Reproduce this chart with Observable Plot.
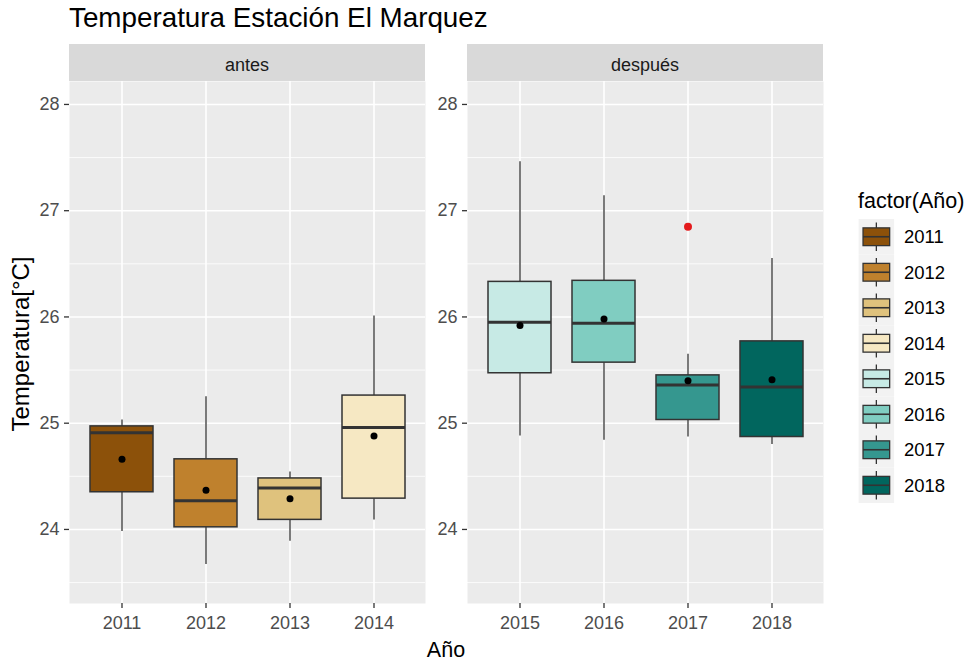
<!DOCTYPE html>
<html>
<head>
<meta charset="utf-8">
<script src="https://cdn.jsdelivr.net/npm/d3@7"></script>
<script src="https://cdn.jsdelivr.net/npm/@observablehq/plot@0.6"></script>
<style>
  html, body { margin: 0; padding: 0; background: white; }
  #wrap { position: relative; width: 972px; height: 665px; background: white; font-family: "Liberation Sans", Arial, sans-serif; }
  #wrap > svg, #wrap > div { position: absolute; }
</style>
</head>
<body>
<div id="wrap"></div>
<script>
// ---- data ----
const years = ["2011", "2012", "2013", "2014", "2015", "2016", "2017", "2018"];
const period = ["antes", "antes", "antes", "antes", "después", "después", "después", "después"];
const whiskerLow = [23.98, 23.67, 23.89, 24.09, 24.88, 24.84, 24.87, 24.80];
const q1 = [24.35, 24.02, 24.09, 24.29, 25.47, 25.57, 25.03, 24.87];
const median = [24.91, 24.27, 24.39, 24.96, 25.95, 25.94, 25.36, 25.34];
const q3 = [24.97, 24.66, 24.48, 25.26, 26.33, 26.34, 25.45, 25.77];
const whiskerHigh = [25.03, 25.25, 24.54, 26.01, 27.46, 27.14, 25.65, 26.55];
const mean = [24.66, 24.37, 24.29, 24.88, 25.92, 25.98, 25.40, 25.41];
const outlierYear = ["2017"];
const outlierValue = [26.85];
const colors = ["#8C510A", "#BF812D", "#DFC27D", "#F6E8C3", "#C7EAE5", "#80CDC1", "#35978F", "#01665E"];
const yTicks = [24, 25, 26, 27, 28];
const yMinor = [23.5, 24.5, 25.5, 26.5, 27.5];
const yDomain = [23.303, 28.216];
const facets = ["antes", "después"];

const data = years.map((y, i) => ({
  year: y, period: period[i], low: whiskerLow[i], q1: q1[i], median: median[i],
  q3: q3[i], high: whiskerHigh[i], mean: mean[i]
}));
const outliers = outlierYear.map((y, i) => ({year: y, value: outlierValue[i], period: period[years.indexOf(y)]}));

const FONT = "'Liberation Sans', Arial, sans-serif";
const wrap = document.getElementById("wrap");

function panel(name, left, width, ml, mr) {
  const rows = data.filter(d => d.period === name);
  const outs = outliers.filter(d => d.period === name);
  const ys = rows.map(d => d.year);
  const p = Plot.plot({
    width, height: 665,
    marginLeft: ml, marginRight: mr, marginTop: 81, marginBottom: 62,
    style: {background: "transparent", fontFamily: FONT, fontSize: "18px", color: "#4D4D4D", overflow: "visible"},
    x: {type: "band", domain: ys, paddingInner: 0.25, paddingOuter: 0.225, label: null},
    y: {domain: yDomain, label: null},
    color: {domain: years, range: colors},
    marks: [
      Plot.frame({fill: "#EBEBEB", stroke: "none"}),
      Plot.ruleY(yMinor, {stroke: "white", strokeWidth: 0.8}),
      Plot.ruleY(yTicks, {stroke: "white", strokeWidth: 1.6}),
      Plot.ruleX(ys, {stroke: "white", strokeWidth: 1.6}),
      Plot.ruleX(rows, {x: "year", y1: "q3", y2: "high", stroke: "#333333", strokeWidth: 1.3}),
      Plot.ruleX(rows, {x: "year", y1: "low", y2: "q1", stroke: "#333333", strokeWidth: 1.3}),
      Plot.barY(rows, {x: "year", y1: "q1", y2: "q3", fill: "year", stroke: "#333333", strokeWidth: 1.5}),
      Plot.tickY(rows, {x: "year", y: "median", stroke: "#333333", strokeWidth: 3}),
      Plot.dot(outs, {x: "year", y: "value", r: 4, fill: "#E41A1C", stroke: "none"}),
      Plot.dot(rows, {x: "year", y: "mean", r: 3.5, fill: "black", stroke: "none"}),
      Plot.axisY({ticks: yTicks, tickFormat: d3.format("d"), tickSize: 5, tickPadding: 5, stroke: "#333333", fill: "#4D4D4D", label: null, strokeWidth: 1.3}),
      Plot.axisX({tickSize: 5, tickPadding: 8, stroke: "#333333", fill: "#4D4D4D", label: null, strokeWidth: 1.3})
    ]
  });
  p.style.left = left + "px";
  p.style.top = "0px";
  wrap.appendChild(p);
}

panel("antes", 0, 440, 69, 15);
panel("después", 440, 400, 27, 17);

// ---- overlay: title, strips, axis titles, legend ----
const svg = d3.select(wrap).append("svg")
  .attr("width", 972).attr("height", 665)
  .style("left", "0px").style("top", "0px")
  .style("font-family", FONT);

svg.append("text").attr("x", 69).attr("y", 27)
  .attr("font-size", 27.8).attr("fill", "black")
  .text("Temperatura Estación El Marquez");

const strips = [[69, 425], [467, 823]];
facets.forEach((f, i) => {
  const [a, b] = strips[i];
  svg.append("rect").attr("x", a).attr("y", 44).attr("width", b - a).attr("height", 37).attr("fill", "#D9D9D9");
  svg.append("text").attr("x", (a + b) / 2).attr("y", 71).attr("text-anchor", "middle")
    .attr("font-size", 18).attr("fill", "#1A1A1A").text(f);
});

svg.append("text").attr("x", 446).attr("y", 657).attr("text-anchor", "middle")
  .attr("font-size", 21.5).attr("fill", "black").text("Año");
svg.append("text").attr("transform", "translate(29,344) rotate(-90)").attr("text-anchor", "middle")
  .attr("font-size", 24).attr("fill", "black").text("Temperatura[°C]");

// legend
const lx = 858.6, ly0 = 219, k = 35.5;
svg.append("text").attr("x", 858).attr("y", 208).attr("font-size", 21.5).attr("fill", "black").text("factor(Año)");
years.forEach((y, i) => {
  const top = ly0 + i * k;
  const g = svg.append("g");
  g.append("rect").attr("x", lx).attr("y", top).attr("width", k).attr("height", k).attr("fill", "#F2F2F2");
  g.append("line").attr("x1", lx + k / 2).attr("x2", lx + k / 2).attr("y1", top + 0.1 * k).attr("y2", top + 0.9 * k)
    .attr("stroke", "#333333").attr("stroke-width", 1.3);
  g.append("rect").attr("x", lx + 0.125 * k).attr("y", top + 0.25 * k).attr("width", 0.75 * k).attr("height", 0.5 * k)
    .attr("fill", colors[i]).attr("stroke", "#333333").attr("stroke-width", 1.3);
  g.append("line").attr("x1", lx + 0.125 * k).attr("x2", lx + 0.875 * k).attr("y1", top + k / 2).attr("y2", top + k / 2)
    .attr("stroke", "#333333").attr("stroke-width", 1.6);
  g.append("text").attr("x", 904).attr("y", top + k / 2 + 6.5).attr("font-size", 18.5).attr("fill", "black").text(y);
});
</script>
</body>
</html>
